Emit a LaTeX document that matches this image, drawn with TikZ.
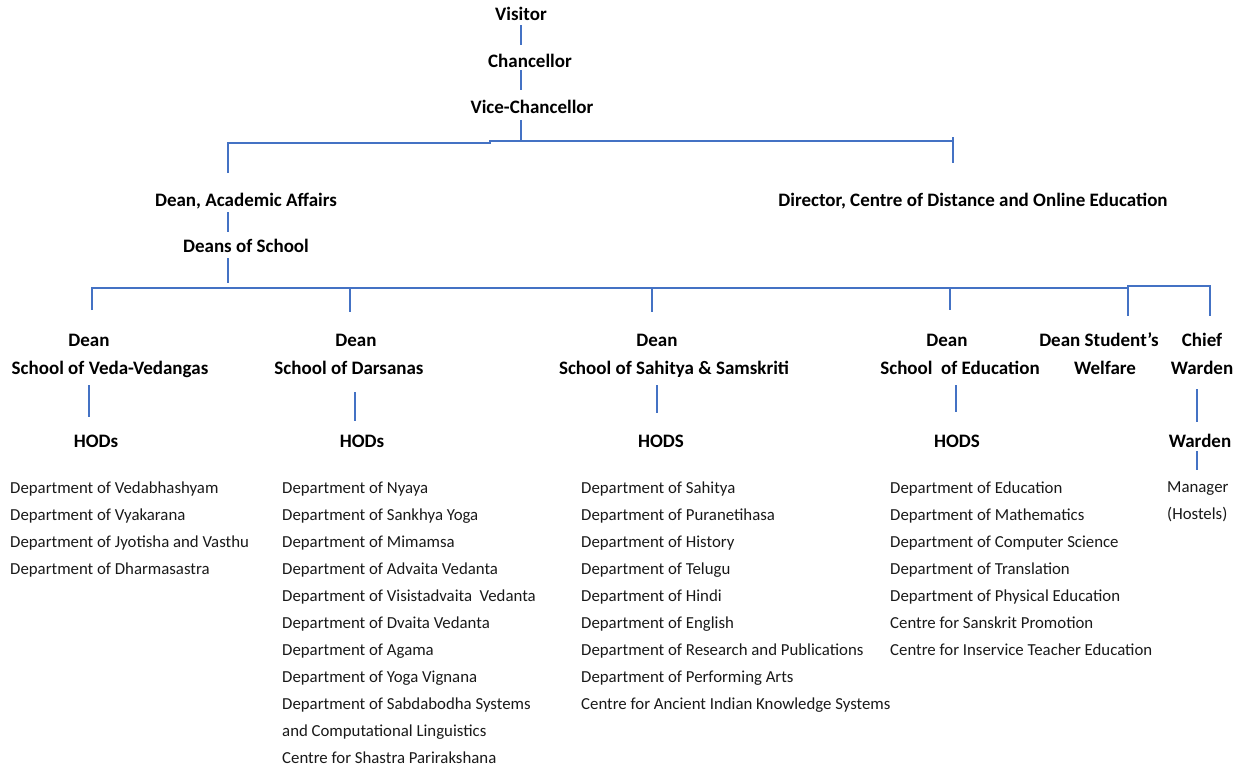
\documentclass[tikz,border=0pt]{standalone}
\usepackage{fontspec}
\setmainfont{Carlito}
\definecolor{lineblue}{RGB}{68,114,196}
\newcommand{\gapr}[1]{\rule{#1}{0pt}}
\begin{document}
\begin{tikzpicture}[x=1pt,y=-1pt,
  conn/.style={draw=lineblue,line width=1.4pt},
  title/.style={font=\fontsize{19}{28}\selectfont\bfseries,inner sep=0pt,align=center,text=black},
  single/.style={title,anchor=base,text height=13.3pt,text depth=4.5pt},
  dept/.style={font=\fontsize{16.8}{27}\selectfont,inner sep=0pt,align=left,anchor=north west,text=black!90}]
\useasboundingbox (0,0) rectangle (1245,772);

% top chain
\node[single] (visitor) at (521,20) {Visitor};
\node[single] (chancellor) at (530,67) {Chancellor};
\node[single] (vc) at (532,113) {Vice-Chancellor};
\node[single] (daa) at (246,206) {Dean, Academic Affairs};
\node[single] (dir) at (973,206) {Director, Centre of Distance and Online Education};
\node[single] (dos) at (246,252) {Deans of School};

% deans
\node[title] (dean1) at (110,355) {\strut Dean\gapr{42pt}\\\strut School of Veda-Vedangas};
\node[title] (dean2) at (349,355) {\strut\gapr{14pt}Dean\\\strut School of Darsanas};
\node[title] (dean3) at (674,355) {\strut Dean\gapr{34pt}\\\strut School of Sahitya \& Samskriti};
\node[title] (dean4) at (960,355) {\strut Dean\gapr{26pt}\\\strut School\ \ of Education};
\node[title] (dsw) at (1099,355) {\strut Dean Student’s\\\strut\gapr{12pt}Welfare};
\node[title] (cw) at (1202,355) {\strut Chief\\\strut Warden};

% HODs
\node[single] (hod1) at (96,447) {HODs};
\node[single] (hod2) at (362,447) {HODs};
\node[single] (hod3) at (661,447) {HODS};
\node[single] (hod4) at (957,447) {HODS};
\node[single] (warden) at (1200,447) {Warden};

% lists
\node[dept] (list1) at (10,482) {Department of Vedabhashyam\\Department of Vyakarana\\Department of Jyotisha and Vasthu\\Department of Dharmasastra};
\node[dept] (list2) at (282,482) {Department of Nyaya\\Department of Sankhya Yoga\\Department of Mimamsa\\Department of Advaita Vedanta\\Department of Visistadvaita\ \ Vedanta\\Department of Dvaita Vedanta\\Department of Agama\\Department of Yoga Vignana\\Department of Sabdabodha Systems\\and Computational Linguistics\\Centre for Shastra Parirakshana};
\node[dept] (list3) at (581,482) {Department of Sahitya\\Department of Puranetihasa\\Department of History\\Department of Telugu\\Department of Hindi\\Department of English\\Department of Research and Publications\\Department of Performing Arts\\Centre for Ancient Indian Knowledge Systems};
\node[dept] (list4) at (890,482) {Department of Education\\Department of Mathematics\\Department of Computer Science\\Department of Translation\\Department of Physical Education\\Centre for Sanskrit Promotion\\Centre for Inservice Teacher Education};
\node[dept] (list5) at (1167,482) {Manager\\(Hostels)};

% coordinates for bus lines and free ends
\coordinate (b1a) at (228,143);
\coordinate (b1b) at (490,143);
\coordinate (b1c) at (490,141);
\coordinate (b1d) at (953,141);
\coordinate (b1top) at (953,137);
\coordinate (b1dir) at (953,163);
\coordinate (b1daa) at (228,173);
\coordinate (vcbus) at (521,141);
\coordinate (vcout) at (521,120);

\coordinate (aa1) at (228,212);
\coordinate (aa2) at (228,232);
\coordinate (dos1) at (228,258);
\coordinate (dos2) at (228,283);

\coordinate (b2a) at (92,288);
\coordinate (b2b) at (1128,288);
\coordinate (b2c) at (1128,286);
\coordinate (b2d) at (1210,286);
\coordinate (s2) at (350,288);
\coordinate (s3) at (652,288);
\coordinate (s4) at (950,288);
\coordinate (in1) at (92,310);
\coordinate (in2) at (350,312);
\coordinate (in3) at (652,312);
\coordinate (in4) at (950,310);
\coordinate (in5) at (1128,316);
\coordinate (in6) at (1210,316);

\coordinate (h1a) at (89,385);
\coordinate (h1b) at (89,417);
\coordinate (h2a) at (355,392);
\coordinate (h2b) at (355,421);
\coordinate (h3a) at (657,385);
\coordinate (h3b) at (657,413);
\coordinate (h4a) at (956,385);
\coordinate (h4b) at (956,412);
\coordinate (h5a) at (1197,389);
\coordinate (h5b) at (1197,422);
\coordinate (w1) at (1197,451);
\coordinate (w2) at (1197,470);

% connectors
\draw[conn,shorten <=0.5pt,shorten >=8.7pt] (visitor.south) -- (visitor.south |- chancellor.north);
\draw[conn,shorten <=-1.5pt,shorten >=9.7pt] (visitor.south |- chancellor.south) -- (visitor.south |- vc.north);
\draw[conn] (vcout) -- (vcbus);
\draw[conn] (b1daa) -- (b1a) -- (b1b) -- (b1c) -- (b1d);
\draw[conn] (b1top) -- (b1dir);
\draw[conn] (aa1) -- (aa2);
\draw[conn] (dos1) -- (dos2);
\draw[conn] (in1) -- (b2a) -- (b2b) -- (b2c) -- (b2d) -- (in6);
\draw[conn] (s2) -- (in2);
\draw[conn] (s3) -- (in3);
\draw[conn] (s4) -- (in4);
\draw[conn] (b2b) -- (in5);
\draw[conn] (h1a) -- (h1b);
\draw[conn] (h2a) -- (h2b);
\draw[conn] (h3a) -- (h3b);
\draw[conn] (h4a) -- (h4b);
\draw[conn] (h5a) -- (h5b);
\draw[conn] (w1) -- (w2);
\end{tikzpicture}
\end{document}
